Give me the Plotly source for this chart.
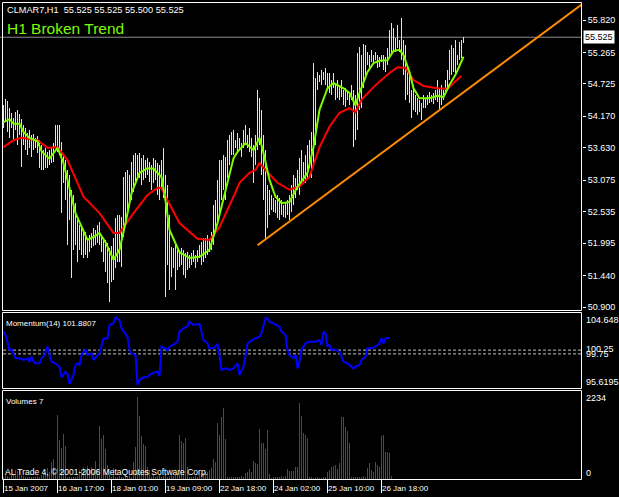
import plotly.graph_objects as go

# ---------------- data ----------------
bar_high = [54.36,54.47,54.43,54.31,54.23,54.14,54.24,54.28,54.21,54.12,
54.02,53.97,53.88,53.93,53.85,53.87,53.80,53.83,53.76,53.68,
53.59,53.63,53.56,53.59,53.63,53.71,54.02,54.02,54.02,53.73,
53.51,53.42,53.25,53.16,52.91,52.82,52.68,52.39,52.31,52.31,
52.22,52.19,52.05,52.14,52.17,52.25,52.22,52.31,52.36,52.14,
52.08,52.05,52.00,51.91,51.95,52.08,52.43,52.48,52.48,52.44,
53.13,53.21,53.25,53.16,53.39,53.51,53.54,53.51,53.54,53.45,
53.51,53.42,53.45,53.39,53.33,53.45,53.42,53.37,53.33,53.42,
53.63,53.16,52.99,52.48,51.93,51.91,51.96,51.88,51.84,51.91,
51.88,51.83,51.84,51.79,51.83,51.88,51.79,51.88,51.96,52.01,
52.08,52.08,52.14,52.05,52.19,52.65,52.73,53.08,53.42,53.42,
53.51,53.47,53.76,53.85,53.90,53.93,53.76,53.88,53.80,53.71,
53.93,54.02,53.85,53.97,53.80,53.68,53.85,54.62,54.48,54.28,
53.85,53.59,52.99,52.91,52.82,52.77,52.73,52.82,52.77,52.73,
52.65,52.68,52.73,52.82,52.99,53.16,53.11,53.25,53.45,53.59,
53.39,53.51,53.68,53.76,53.90,55.08,54.83,54.93,54.88,54.96,
54.93,55.00,54.91,54.91,54.79,54.91,54.71,54.79,54.71,54.79,
54.62,54.65,54.59,54.53,54.71,54.62,54.53,55.25,55.36,55.22,
55.41,55.39,55.27,55.22,55.31,55.22,55.27,55.22,55.19,55.22,
55.22,55.19,55.34,55.65,55.77,55.68,55.51,55.73,55.48,55.85,
55.48,55.39,55.05,54.96,54.62,54.71,54.53,54.48,54.45,54.40,
54.53,54.48,54.53,54.59,54.53,54.57,54.62,54.79,54.65,54.71,
54.62,54.79,54.96,55.31,55.39,55.34,55.48,55.22,55.44,55.48,
55.53]

bar_low = [53.97,54.07,53.90,53.80,53.97,53.76,53.93,53.68,53.85,53.30,
53.68,53.59,53.51,53.63,53.47,53.59,53.63,53.54,53.28,53.25,
53.25,53.28,53.28,53.33,53.37,53.39,53.63,53.56,53.51,52.51,
53.03,52.73,51.96,52.39,51.40,51.88,51.96,51.67,51.88,51.79,
51.74,51.79,51.74,51.84,51.91,51.95,51.96,52.00,51.96,51.84,
51.67,51.50,51.31,50.99,51.33,51.36,51.57,51.67,51.67,51.59,
52.10,52.31,52.56,52.65,52.73,52.87,52.99,53.08,53.11,52.99,
53.08,53.11,53.16,53.04,52.91,53.03,53.08,52.82,52.73,52.91,
52.77,51.07,51.62,51.19,51.42,51.57,51.19,51.54,51.59,51.62,
51.45,51.40,51.54,51.57,51.62,51.67,51.57,51.67,51.74,51.62,
51.67,51.74,51.79,51.84,51.88,51.96,52.19,52.31,52.48,52.73,
52.91,52.73,53.11,53.33,53.51,53.51,53.63,53.56,53.59,53.47,
53.63,53.68,53.63,53.56,53.47,53.03,53.33,53.59,53.68,53.16,
52.73,52.05,52.25,52.48,52.56,52.53,52.51,52.43,52.39,52.48,
52.44,52.43,52.48,52.39,52.53,52.65,52.77,52.91,52.82,52.99,
53.03,53.03,53.08,53.28,53.11,53.33,53.68,54.62,54.76,54.71,
54.79,54.71,54.62,54.57,54.53,54.65,54.45,54.48,54.45,54.50,
54.36,54.33,54.45,54.36,54.45,53.64,53.76,53.93,54.28,54.31,
54.65,54.88,55.05,55.00,55.10,55.08,55.13,55.00,55.01,55.10,
54.96,54.93,55.05,55.17,55.22,55.31,55.27,55.34,55.27,55.13,
54.88,54.45,54.53,54.40,54.14,54.28,54.24,54.19,54.24,54.11,
54.31,54.31,54.36,54.40,54.41,54.38,54.45,54.41,54.28,54.36,
54.45,54.53,54.62,54.79,54.88,54.93,54.88,55.05,55.13,55.17,
55.43]

fast_ma_bars = [0,3,5,8,10,13,17,19,23,27,30,33,36,42,45,48,51,55,58,61,
64,68,72,75,78,79,81,83,88,93,98,103,107,112,115,117,121,125,128,130,
133,136,139,143,147,152,155,158,162,165,170,173,176,178,182,185,188,192,195,198,
200,203,205,208,213,217,220,223,226,230]
fast_ma = [54.07,54.12,54.04,54.04,53.90,53.80,53.74,53.57,53.44,53.63,
53.37,52.96,52.51,52.05,52.10,52.17,52.01,51.71,51.88,52.34,
52.85,53.20,53.28,53.27,53.16,53.13,52.73,52.22,51.84,51.74,
51.76,51.88,52.34,53.04,53.45,53.56,53.71,53.59,53.80,53.54,
53.08,52.79,52.68,52.70,52.96,53.20,53.64,54.28,54.65,54.74,
54.65,54.57,54.36,54.57,54.93,55.08,55.12,55.13,55.29,55.31,
55.22,54.93,54.65,54.48,54.48,54.52,54.50,54.71,54.88,55.19]

slow_ma_bars = [0,5,9,13,17,22,27,32,40,48,55,58,65,72,77,79,82,88,97,103,
108,115,118,123,126,128,132,137,143,148,153,158,163,168,173,176,179,185,190,193,
197,201,205,210,217,222,225,229]
slow_ma = [53.64,53.76,53.80,53.78,53.76,53.63,53.64,53.42,52.79,52.51,
52.17,52.17,52.51,52.82,52.94,52.94,52.73,52.34,52.07,52.05,
52.27,52.79,53.03,53.20,53.25,53.37,53.21,53.03,52.91,52.97,
53.13,53.64,53.99,54.23,54.31,54.24,54.45,54.67,54.83,54.91,
55.01,55.00,54.79,54.69,54.65,54.64,54.74,54.86]

trend_bars = [127, 289.25]
trend_price = [51.96, 56.09]
bid_price = 55.525

mom_bars = [0,1,2,3,4,5,6,8,10,12,
13,14,15,16,18,19,20,22,23,24,
26,28,29,31,32,33,35,36,37,38,
39,41,42,44,45,47,48,50,52,53,
55,56,58,59,61,62,63,64,66,67,
68,70,72,73,75,77,78,79,81,82,
83,85,87,88,90,92,93,95,98,99,
100,102,103,105,107,108,109,111,113,115,
117,118,120,122,123,126,128,129,131,132,
133,135,138,139,141,142,143,145,146,147,
148,149,151,153,156,158,159,160,161,162,
163,164,165,167,168,170,172,173,175,176,
178,179,181,182,184,186,188,189,190,191,
193]
mom_vals = [102.70,102.26,101.37,100.27,100.36,99.82,99.16,99.16,98.94,99.16,
98.72,99.38,98.72,98.50,98.50,99.16,99.38,100.71,99.82,98.72,
98.50,98.05,96.64,97.39,97.08,95.75,96.95,98.27,98.50,98.27,
99.60,100.35,99.60,99.82,98.94,99.60,99.82,101.81,101.81,103.59,
103.81,104.60,104.25,103.14,102.48,102.04,100.27,99.82,99.60,95.62,
96.28,96.64,96.64,96.95,97.26,97.39,96.81,100.71,100.49,100.18,
100.71,100.93,101.37,102.70,103.14,103.45,104.03,103.59,103.72,102.70,
101.59,101.15,100.49,100.49,101.06,99.60,97.61,97.83,97.61,97.83,
98.50,96.95,98.05,101.06,101.37,101.81,102.04,102.48,104.47,104.47,
104.03,103.81,103.37,102.70,102.26,100.27,99.60,99.16,99.60,97.83,
98.72,100.27,101.15,101.37,101.37,101.59,100.93,102.70,102.48,100.80,
100.93,100.27,100.36,100.18,100.04,98.72,98.50,98.27,97.83,98.05,
98.27,98.94,99.38,100.49,100.49,100.71,101.15,101.81,101.15,101.81,
101.88]
mom_levels = [100.25, 99.75]

volumes = [63,109,81,63,109,109,244,226,244,109,
90,45,45,63,45,45,45,81,63,109,
154,199,289,199,470,530,199,1737,1058,832,
1221,895,45,63,45,63,45,81,244,271,
316,271,353,244,335,199,488,244,1438,1076,
1194,805,380,109,63,289,63,45,81,63,
45,63,81,109,63,470,877,2234,1710,1167,
950,895,335,244,63,109,63,81,109,63,
81,109,63,81,109,81,109,154,1194,1040,
968,1103,335,63,45,63,81,45,109,154,
154,199,199,244,289,540,470,1510,1194,1690,
1917,1076,45,63,45,63,45,63,45,81,
63,154,199,262,199,488,443,407,1348,986,
970,805,1330,136,18,45,63,45,63,81,
63,81,262,226,226,226,316,316,2071,1710,
1257,1194,1103,63,45,18,27,36,18,27,
45,63,199,244,316,353,380,262,425,1690,
1673,1420,1312,968,45,45,63,45,63,45,
81,63,289,443,244,199,470,380,316,1167,
1194,742,720,696,81]

price_ticks = [55.820, 55.265, 54.725, 54.170, 53.630, 53.075, 52.535, 51.995, 51.440, 50.900]
time_tick_bars = [0, 27, 54, 81, 108, 135, 162, 189]
time_tick_labels = ["15 Jan 2007", "16 Jan 17:00", "18 Jan 01:00", "19 Jan 09:00",
                    "22 Jan 18:00", "24 Jan 02:00", "25 Jan 10:00", "26 Jan 18:00"]
mom_labels = ["104.648", "100.25", "99.75", "95.6195"]
vol_labels = ["2234", "0"]

# ---------------- figure ----------------
FONT = "Liberation Sans, Arial, sans-serif"
W, H = 619, 497
ML, MR, MT, MB = 0, 37, 0, 17
PW, PH = W - ML - MR, H - MT - MB

def py(p):  # pixel row -> paper y
    return 1 - (p - MT) / PH

def px(p):
    return (p - ML) / PW

fig = go.Figure()

bar_x = list(range(len(bar_high)))
fig.add_trace(go.Bar(x=bar_x, y=[h - l for h, l in zip(bar_high, bar_low)], base=bar_low,
                     width=0.5, marker=dict(color="#ffff00", line=dict(width=0)),
                     xaxis="x", yaxis="y", hoverinfo="skip"))
fig.add_trace(go.Scatter(x=slow_ma_bars, y=slow_ma, mode="lines",
                         line=dict(color="#ff0000", width=2), xaxis="x", yaxis="y"))
fig.add_trace(go.Scatter(x=fast_ma_bars, y=fast_ma, mode="lines",
                         line=dict(color="#7cfc00", width=2), xaxis="x", yaxis="y"))
fig.add_trace(go.Scatter(x=trend_bars, y=trend_price, mode="lines",
                         line=dict(color="#ff8c00", width=2), xaxis="x", yaxis="y"))

fig.add_trace(go.Scatter(x=mom_bars, y=mom_vals, mode="lines",
                         line=dict(color="#0000ff", width=2), xaxis="x", yaxis="y2"))

vol_colors = ["#008000" if (i == 0 or v > volumes[i - 1]) else "#ff0000"
              for i, v in enumerate(volumes)]
fig.add_trace(go.Bar(x=list(range(len(volumes))), y=volumes, width=0.5,
                     marker=dict(color=vol_colors, line=dict(width=0)),
                     xaxis="x", yaxis="y3", hoverinfo="skip"))

shapes = []
# panel borders
for top, bot in [(2.5, 310.5), (312.5, 388.5), (390.5, 479.5)]:
    shapes.append(dict(type="rect", xref="paper", yref="paper",
                       x0=px(2.5), x1=px(581.5), y0=py(bot), y1=py(top),
                       line=dict(color="white", width=1), fillcolor="rgba(0,0,0,0)", layer="above"))
# bid line
shapes.append(dict(type="line", xref="paper", yref="y", x0=0, x1=px(581.5),
                   y0=bid_price, y1=bid_price, line=dict(color="#8c8c8c", width=1), layer="below"))
# momentum levels
for lv in mom_levels:
    shapes.append(dict(type="line", xref="paper", yref="y2", x0=px(3), x1=px(581),
                       y0=lv, y1=lv, line=dict(color="#c0c0c0", width=1, dash="3px,2px"), layer="below"))
# time tick marks
for tb in time_tick_bars:
    shapes.append(dict(type="line", xref="x", yref="paper", x0=tb, x1=tb,
                       y0=py(480), y1=py(493), line=dict(color="white", width=1)))

ann = []
def text(x, y, s, size, color="white", xanchor="left", bg=None):
    d = dict(x=px(x), y=py(y), xref="paper", yref="paper", text=s, showarrow=False,
             xanchor=xanchor, yanchor="middle", font=dict(family=FONT, size=size, color=color),
             borderpad=0)
    if bg:
        d["bgcolor"] = bg
    ann.append(d)

text(6, 10, "CLMAR7,H1\u00a0\u00a055.525 55.525 55.500 55.525", 9.2)
text(6, 28, "H1 Broken Trend", 15.5, color="#7cfc00")
text(5, 323, "Momentum(14) 101.8807", 8)
text(5, 401, "Volumes 7", 8)
text(4, 472, "AL Trade 4, \u00a9 2001-2006 MetaQuotes Software Corp.", 8.5)

for s, yy in zip(mom_labels, [320, 349, 354, 382]):
    text(585, yy, s, 9)
for s, yy in zip(vol_labels, [398, 473]):
    text(585, yy, s, 9)
# current price label
ann.append(dict(x=px(583), y=bid_price, xref="paper", yref="y", text="55.525", showarrow=False,
                xanchor="left", yanchor="middle", font=dict(family=FONT, size=9, color="black"),
                bgcolor="white", borderpad=1))

axis_common = dict(showgrid=False, zeroline=False, showline=False, fixedrange=True, automargin=False)

fig.update_layout(
    width=W, height=H,
    margin=dict(l=ML, r=MR, t=MT, b=MB, autoexpand=False),
    paper_bgcolor="black", plot_bgcolor="black",
    showlegend=False, barmode="overlay", bargap=0,
    xaxis=dict(range=[-1.75, 289.25], anchor="y3", tickvals=time_tick_bars, ticktext=time_tick_labels,
               ticks="outside", ticklen=2, tickcolor="white", ticklabelposition="outside right",
               tickangle=0,
               tickfont=dict(family=FONT, size=8, color="white"), **axis_common),
    yaxis=dict(domain=[py(310), py(2)], range=[50.849, 56.129], side="right", anchor="x",
               tickvals=price_ticks, ticktext=[f"{v:.3f}" for v in price_ticks],
               ticks="outside", ticklen=3, tickcolor="white",
               tickfont=dict(family=FONT, size=9, color="white"), **axis_common),
    yaxis2=dict(domain=[py(388), py(313)], range=[95.22, 105.18], anchor="x",
                showticklabels=False, **axis_common),
    yaxis3=dict(domain=[0, py(391)], range=[-27, 2388], anchor="x",
                showticklabels=False, **axis_common),
    shapes=shapes, annotations=ann,
)

fig.write_html("out.html", config={"displayModeBar": False},
               post_script="document.body.style.margin='0';document.body.style.background='black';")
